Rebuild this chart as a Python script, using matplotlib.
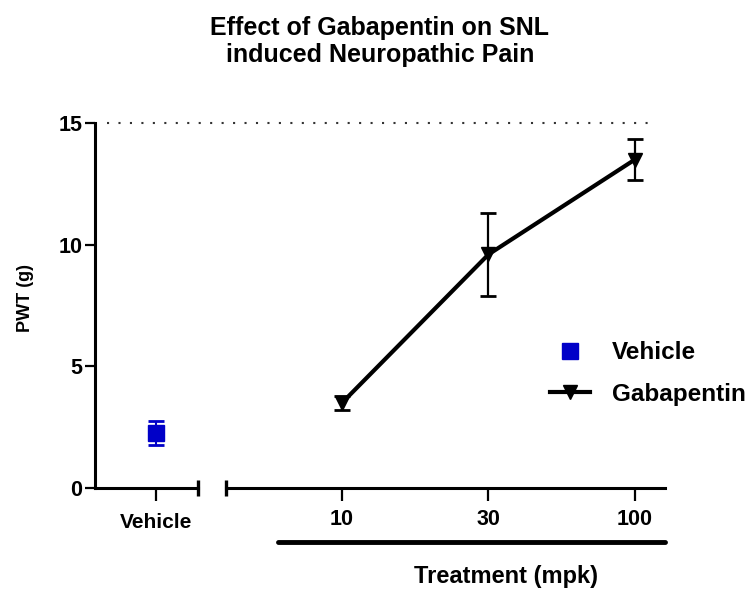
import matplotlib
matplotlib.use('Agg')
import matplotlib.pyplot as plt
from matplotlib.lines import Line2D

# data
vehicle_labels = ['Vehicle']
vehicle_mean = [2.27]
vehicle_sem = [0.49]

dose_labels = ['10', '30', '100']
gaba_mean = [3.5, 9.6, 13.5]
gaba_sem = [0.28, 1.72, 0.83]

y_ticks = [0, 5, 10, 15]

plt.rcParams['font.family'] = ['Liberation Sans', 'DejaVu Sans']
plt.rcParams['font.weight'] = 'bold'

W, H = 751, 591
fig = plt.figure(figsize=(W / 100, H / 100), dpi=100)

def px_box(x0, x1, y_top, y_bot):
    return [x0 / W, 1 - y_bot / H, (x1 - x0) / W, (y_bot - y_top) / H]

ax1 = fig.add_axes(px_box(95, 198, 123, 488))
ax2 = fig.add_axes(px_box(225.7, 665, 123, 488))

blue = '#0000c8'
spine_w = 2.2

# vehicle panel
x1 = list(range(len(vehicle_labels)))
ax1.errorbar(x1, vehicle_mean, yerr=vehicle_sem, fmt='s', color=blue, ms=11,
             ecolor=blue, elinewidth=1.5, capsize=6, capthick=2, clip_on=False)
ax1.set_xlim(-0.59, 0.41)
ax1.set_ylim(0, 15)
ax1.set_yticks(y_ticks)
ax1.set_xticks(x1)
ax1.set_xticklabels(vehicle_labels, fontsize=15)
for s in ['top', 'right']:
    ax1.spines[s].set_visible(False)
for s in ['left', 'bottom']:
    ax1.spines[s].set_linewidth(spine_w)
ax1.tick_params(axis='y', length=7, width=1.6, labelsize=15.5, pad=2)
ax1.tick_params(axis='x', length=9, width=1.6, pad=9)
ax1.plot([1], [0], marker='|', ms=11, mew=2.4, color='k',
         transform=ax1.transAxes, clip_on=False)

# gabapentin panel
x2 = list(range(len(dose_labels)))
ax2.errorbar(x2, gaba_mean, yerr=gaba_sem, fmt='none', ecolor='k',
             elinewidth=1.6, capsize=6, capthick=2, clip_on=False)
ax2.plot(x2, gaba_mean, color='k', lw=3, marker='v', ms=10, clip_on=False)
ax2.set_xlim(-0.794, 2.205)
ax2.set_ylim(0, 15)
ax2.set_yticks([])
ax2.set_xticks(x2)
ax2.set_xticklabels(dose_labels, fontsize=15.5)
for s in ['top', 'right', 'left']:
    ax2.spines[s].set_visible(False)
ax2.spines['bottom'].set_linewidth(spine_w)
ax2.tick_params(axis='x', length=9, width=1.6, pad=6)
ax2.plot([0], [0], marker='|', ms=11, mew=2.4, color='k',
         transform=ax2.transAxes, clip_on=False)

# thick bar under the doses
ax2.plot([0.119, 1.0], [-0.148, -0.148], color='k', lw=3.5,
         solid_capstyle='round', transform=ax2.transAxes, clip_on=False)

# dotted reference line at 15
span = 439.3
ax2.plot([(107 - 225.7) / span, (657 - 225.7) / span], [1, 1], color='#333333',
         lw=1.5, ls=(0, (1, 4.5)), transform=ax2.transAxes, clip_on=False)

# labels
fig.text(25 / W, 1 - 298 / H, 'PWT (g)', rotation=90, ha='center', va='center',
         fontsize=13)
fig.text(506 / W, 1 - 577 / H, 'Treatment (mpk)', ha='center', va='center',
         fontsize=17)
fig.text(380 / W, 1 - 16 / H, 'Effect of Gabapentin on SNL\ninduced Neuropathic Pain',
         ha='center', va='top', fontsize=18, linespacing=1.15)

handles = [
    Line2D([], [], color=blue, marker='s', ls='none', ms=11),
    Line2D([], [], color='k', marker='v', lw=3, ms=10),
]
fig.legend(handles, ['Vehicle', 'Gabapentin'], loc='center left',
           bbox_to_anchor=(550 / W, 1 - 373.5 / H), frameon=False,
           fontsize=17.5, handlelength=1.65, handletextpad=0.9,
           labelspacing=0.75, borderpad=0, borderaxespad=0)

fig.savefig('out.png', dpi=100)
